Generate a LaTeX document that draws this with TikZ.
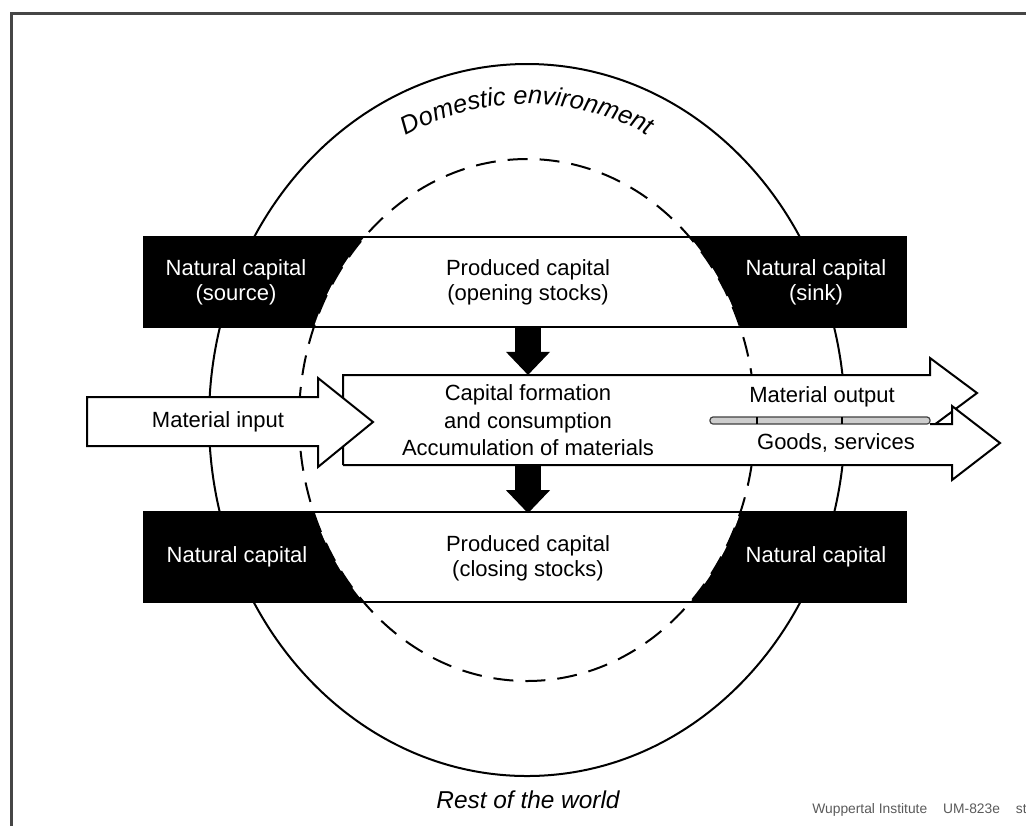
\documentclass[tikz,border=0pt]{standalone}
\usepackage{fontspec}
\setmainfont{Liberation Sans}
\usetikzlibrary{arrows.meta,positioning,decorations.text}
\definecolor{marco}{RGB}{70,70,70}
\definecolor{tira}{RGB}{205,205,205}
\definecolor{grisf}{RGB}{90,90,90}
\tikzset{
  txt/.style={align=center, inner sep=0pt, font=\fontsize{11}{12.5}\selectfont},
  txtneg/.style={txt, text=white},
  stock/.style={txt, minimum height=45pt},
  flujo/.style={draw=black, line width=1pt, fill=white, line join=miter},
  baja/.style={-{Triangle[length=11.5pt, width=22pt, line width=0pt]}, line width=13pt, black},
  orbe/.style={draw=black, line width=1pt},
  borde/.style={draw=black, line width=1pt, dash pattern=on 10pt off 6pt},
  pie/.style={font=\fontsize{12.2}{14}\selectfont\itshape},
  cred/.style={font=\fontsize{6.9}{8}\selectfont, text=grisf, inner sep=0pt},
}
\begin{document}
\begin{tikzpicture}[x=0.5pt, y=-0.5pt, node distance=23.75pt]
  \useasboundingbox (0,0) rectangle (1026,826);
  % marco
  \draw[marco, line width=1.5pt] (11,826) -- (11,13) -- (1026,13);
  % entorno domestico
  \draw[orbe] (527,420) ellipse [x radius=159pt, y radius=178pt];
  % bandas de capital
  \fill (143,237) rectangle (907,327);
  \fill (143,512) rectangle (907,602);
  \begin{scope}
    \clip (527,420) ellipse [x radius=114pt, y radius=130.5pt];
    \fill[white] (143,237) rectangle (907,327);
    \fill[white] (143,512) rectangle (907,602);
  \end{scope}
  \foreach \y in {237,327,512,602}
    \draw[line width=1pt] (143,\y) -- (907,\y);
  \draw[borde] (527,420) ellipse [x radius=114pt, y radius=130.5pt];
  % caja central y flujos de salida
  \fill[white] (343,375) rectangle (952,465);
  \filldraw[flujo] (343,465) -- (343,375) -- (930,375) -- (930,358) -- (977,393) -- (930,428);
  \filldraw[flujo] (930,424) -- (952,424) -- (952,406) -- (1000,443) -- (952,480) -- (952,465) -- (343,465);
  \draw[line width=0.6pt, draw=black!75, fill=tira, rounded corners=1.5pt] (710,417) rectangle (930,424);
  \foreach \x in {757,842}
    \draw[line width=0.6pt] (\x,417) -- (\x,424);
  % flujo de entrada
  \filldraw[flujo] (87,397) -- (318,397) -- (318,378) -- (373,422) -- (318,467) -- (318,446) -- (87,446) -- cycle;
  % textos
  \node[txtneg] (fuente) at (236,282) {Natural capital\\(source)};
  \node[txtneg] (sumidero) at (816,282) {Natural capital\\(sink)};
  \node[txtneg] (natizq) at (237,557) {Natural capital};
  \node[txtneg] (natder) at (816,557) {Natural capital};
  \node[stock] (opening) at (528,282) {Produced capital\\(opening stocks)};
  \node[stock, below=of opening, font=\fontsize{11}{13.75}\selectfont] (formation) {Capital formation\\and consumption\\Accumulation of materials};
  \node[stock, below=of formation] (closing) {Produced capital\\(closing stocks)};
  \node[txt] (entrada) at (218,422) {Material input};
  \node[txt] (salida) at (822,397) {Material output};
  \node[txt] (bienes) at (836,443) {Goods, services};
  \draw[baja] (opening) -- (formation);
  \draw[baja] (formation) -- (closing);
  \path[decorate, decoration={text along path, text align=center,
      text={|\fontsize{12.7}{14}\selectfont\itshape|Domestic environment}}]
    (265.8,311.9) arc [start angle=160, end angle=20, x radius=139pt, y radius=158pt];
  \node[pie] (mundo) at (528,800) {Rest of the world};
  \node[cred, anchor=west] (inst) at (812,810) {Wuppertal Institute\hspace{8pt}UM-823e\hspace{8pt}st};
\end{tikzpicture}
\end{document}
